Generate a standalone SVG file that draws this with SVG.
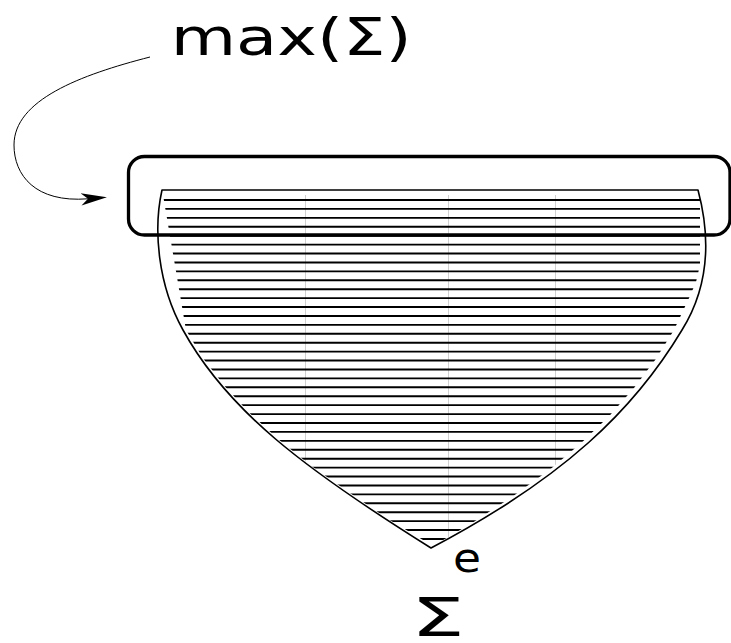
<svg xmlns="http://www.w3.org/2000/svg" width="731" height="643" viewBox="0 0 731 643">
<style>
.hatch line{stroke:#000;stroke-width:1.9}
.hatch line.seam{stroke:#000;stroke-width:0.5;opacity:0.45}
.outline{fill:none;stroke:#000;stroke-width:1.6;stroke-linejoin:round}
.box{fill:none;stroke:#000;stroke-width:3.3}
.conn{fill:none;stroke:#000;stroke-width:1}
.lbl{font-family:"DejaVu Sans","Liberation Sans",sans-serif;fill:#000}
</style>
<defs>
<clipPath id="hclip">
<polygon points="163,195 700,195 700,265 696,282 690,296 674,330 655.5,359.5 634,388 609.5,415.7 581.5,442.75 550,469.4 514,495.6 474,521.7 433,546 388,519 347,491 310,465 278,439 249.5,413 225,386.5 203.5,359 186,330"/>
</clipPath>
<marker id="ah" markerUnits="userSpaceOnUse" viewBox="0 0 26 16" refX="7" refY="8" markerWidth="26" markerHeight="16" orient="auto">
<polygon points="26,8 0,1.8 7,8 0,14.2" fill="#000"/>
</marker>
</defs>
<g id="region">
<g class="hatch" clip-path="url(#hclip)">
<line x1="150" x2="712" y1="200" y2="200"/>
<line x1="150" x2="712" y1="208.92" y2="208.92"/>
<line x1="150" x2="712" y1="217.84" y2="217.84"/>
<line x1="150" x2="712" y1="226.76" y2="226.76"/>
<line x1="150" x2="712" y1="235.68" y2="235.68"/>
<line x1="150" x2="712" y1="244.6" y2="244.6"/>
<line x1="150" x2="712" y1="253.52" y2="253.52"/>
<line x1="150" x2="712" y1="262.44" y2="262.44"/>
<line x1="150" x2="712" y1="271.36" y2="271.36"/>
<line x1="150" x2="712" y1="280.28" y2="280.28"/>
<line x1="150" x2="712" y1="289.2" y2="289.2"/>
<line x1="150" x2="712" y1="298.12" y2="298.12"/>
<line x1="150" x2="712" y1="307.04" y2="307.04"/>
<line x1="150" x2="712" y1="315.96" y2="315.96"/>
<line x1="150" x2="712" y1="324.88" y2="324.88"/>
<line x1="150" x2="712" y1="333.8" y2="333.8"/>
<line x1="150" x2="712" y1="342.72" y2="342.72"/>
<line x1="150" x2="712" y1="351.64" y2="351.64"/>
<line x1="150" x2="712" y1="360.56" y2="360.56"/>
<line x1="150" x2="712" y1="369.48" y2="369.48"/>
<line x1="150" x2="712" y1="378.4" y2="378.4"/>
<line x1="150" x2="712" y1="387.32" y2="387.32"/>
<line x1="150" x2="712" y1="396.24" y2="396.24"/>
<line x1="150" x2="712" y1="405.16" y2="405.16"/>
<line x1="150" x2="712" y1="414.08" y2="414.08"/>
<line x1="150" x2="712" y1="423" y2="423"/>
<line x1="150" x2="712" y1="431.92" y2="431.92"/>
<line x1="150" x2="712" y1="440.84" y2="440.84"/>
<line x1="150" x2="712" y1="449.76" y2="449.76"/>
<line x1="150" x2="712" y1="458.68" y2="458.68"/>
<line x1="150" x2="712" y1="467.6" y2="467.6"/>
<line x1="150" x2="712" y1="476.52" y2="476.52"/>
<line x1="150" x2="712" y1="485.44" y2="485.44"/>
<line x1="150" x2="712" y1="494.36" y2="494.36"/>
<line x1="150" x2="712" y1="503.28" y2="503.28"/>
<line x1="150" x2="712" y1="512.2" y2="512.2"/>
<line x1="150" x2="712" y1="521.12" y2="521.12"/>
<line x1="150" x2="712" y1="530.04" y2="530.04"/>
<line x1="150" x2="712" y1="538.96" y2="538.96"/>
<line class="seam" x1="305.7" x2="305.7" y1="195" y2="548"/>
<line class="seam" x1="448.3" x2="448.3" y1="195" y2="548"/>
<line class="seam" x1="555.7" x2="555.7" y1="195" y2="548"/>
</g>
<path class="outline" d="M162,190 L698,190 C710,235 710,285 682,330 C634,410 564,478 431,548 C303,468 227,410 183,330 C158,285 153,230 162,190 Z"/>
</g>
<g id="max-box">
<rect class="box" x="128.5" y="156.5" width="601.5" height="78.5" rx="16" ry="16"/>
</g>
<g id="label-max">
<text class="lbl" x="170.7" y="55" font-size="52" textLength="241" lengthAdjust="spacingAndGlyphs">max(Σ)</text>
</g>
<g id="label-e">
<text class="lbl" x="453" y="571.5" font-size="40" textLength="28" lengthAdjust="spacingAndGlyphs">e</text>
</g>
<g id="label-sigma">
<text class="lbl" x="411" y="636" font-size="52.5" textLength="53.6" lengthAdjust="spacingAndGlyphs">Σ</text>
</g>
<g id="connectors">
<path class="conn" d="M150,57 C80,75 14,100 14,145 C14,175 35,203 88,198.8" marker-end="url(#ah)"/>
</g>
</svg>
